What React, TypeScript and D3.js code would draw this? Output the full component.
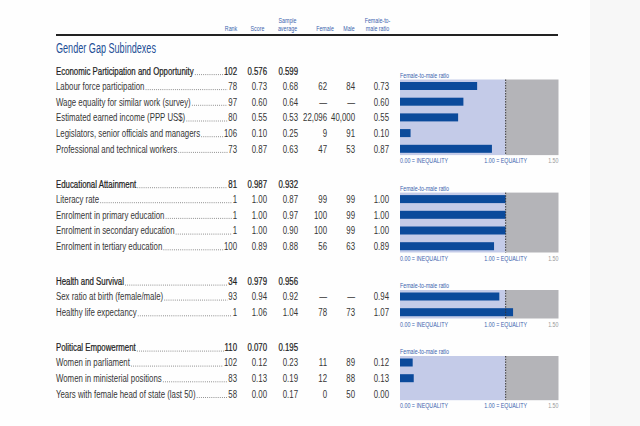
import React, { useEffect, useRef } from "react";
import * as d3 from "d3";

// ---- data ----
const sectionNames = [
  "Economic Participation and Opportunity",
  "Educational Attainment",
  "Health and Survival",
  "Political Empowerment",
];
const sectionRank = [102, 81, 34, 110];
const sectionScore = [0.576, 0.987, 0.979, 0.07];
const sectionAvg = [0.599, 0.932, 0.956, 0.195];

const indicatorLabels = [
  "Labour force participation",
  "Wage equality for similar work (survey)",
  "Estimated earned income (PPP US$)",
  "Legislators, senior officials and managers",
  "Professional and technical workers",
  "Literacy rate",
  "Enrolment in primary education",
  "Enrolment in secondary education",
  "Enrolment in tertiary education",
  "Sex ratio at birth (female/male)",
  "Healthy life expectancy",
  "Women in parliament",
  "Women in ministerial positions",
  "Years with female head of state (last 50)",
];
const indicatorSection = [0, 0, 0, 0, 0, 1, 1, 1, 1, 2, 2, 3, 3, 3];
const indicatorRank = [78, 97, 80, 106, 73, 1, 1, 1, 100, 93, 1, 102, 83, 58];
const indicatorScore = [0.73, 0.6, 0.55, 0.1, 0.87, 1.0, 1.0, 1.0, 0.89, 0.94, 1.06, 0.12, 0.13, 0.0];
const indicatorAvg = [0.68, 0.64, 0.53, 0.25, 0.63, 0.87, 0.97, 0.9, 0.88, 0.92, 1.04, 0.23, 0.19, 0.17];
const indicatorFemale: (number | null)[] = [62, null, 22096, 9, 47, 99, 100, 100, 56, null, 78, 11, 12, 0];
const indicatorMale: (number | null)[] = [84, null, 40000, 91, 53, 99, 99, 99, 63, null, 73, 89, 88, 50];
const indicatorRatio = [0.73, 0.6, 0.55, 0.1, 0.87, 1.0, 1.0, 1.0, 0.89, 0.94, 1.07, 0.12, 0.13, 0.0];

const columnHeaders = [["Rank"], ["Score"], ["Sample", "average"], ["Female"], ["Male"], ["Female-to-", "male ratio"]];
const ratioTicks = ["0.00 = INEQUALITY", "1.00 = EQUALITY", "1.50"];
const ratioDomain = [0, 1.5];
const title = "Gender Gap Subindexes";
const chartLabel = "Female-to-male ratio";

const FONT = "'Liberation Sans', Arial, sans-serif";
const BLUE = "#1d4f96";
const SMALLBLUE = "#3b63ad";
const BAR = "#0b4a9b";
const TEXT = "#363636";

export default function App() {
  const ref = useRef<SVGSVGElement | null>(null);

  useEffect(() => {
    const svg = d3.select(ref.current);
    svg.selectAll("*").remove();

    svg.append("rect").attr("width", 640).attr("height", 426).attr("fill", "#fefefe");
    svg.append("rect").attr("x", 590).attr("width", 50).attr("height", 426).attr("fill", "#f7f7f7");

    // measure helper to derive a condensing factor for the available font
    const measure = (s: string, size: number) => {
      const t = svg.append("text").attr("font-family", FONT).attr("font-size", size).text(s);
      const w = (t.node() as SVGTextElement).getComputedTextLength();
      t.remove();
      return w;
    };
    const BODY = 11;
    const sxBody = 88.5 / measure("Labour force participation", BODY);
    const TITLE = 14;
    const sxTitle = 100 / measure(title, TITLE);
    const SMALL = 7.6;
    const sxSmall = 49 / measure(chartLabel, SMALL);

    type Opt = { size: number; sx: number; anchor?: string; fill?: string; heavy?: boolean };
    const txt = (x: number, y: number, s: string, o: Opt) => {
      const t = svg.append("text")
        .attr("transform", `translate(${x},${y}) scale(${o.sx},1)`)
        .attr("dy", "0.35em")
        .attr("text-anchor", o.anchor || "start")
        .attr("font-family", FONT)
        .attr("font-size", o.size)
        .attr("fill", o.fill || TEXT)
        .text(s);
      if (o.heavy) t.attr("stroke", o.fill || TEXT).attr("stroke-width", 0.25);
      return (t.node() as SVGTextElement).getComputedTextLength() * o.sx;
    };

    const leftX = 56;
    const colX = [237, 267, 298, 327, 355, 389];
    const headX = [231, 257.5, 287.5, 325, 349, 377.5];
    const x = d3.scaleLinear().domain(ratioDomain).range([400, 558.5]);
    const f2 = d3.format(".2f");
    const f3 = d3.format(".3f");
    const fc = d3.format(",");

    // column headers
    columnHeaders.forEach((lines, i) => {
      lines.forEach((ln, j) => {
        txt(headX[i], 28 - (lines.length - 1 - j) * 7.4, ln, { size: SMALL, sx: sxSmall, anchor: "middle", fill: SMALLBLUE });
      });
    });

    svg.append("line").attr("x1", leftX).attr("x2", 558).attr("y1", 35).attr("y2", 35)
      .attr("stroke", "#222").attr("stroke-width", 2.2);

    txt(leftX, 48, title, { size: TITLE, sx: sxTitle, fill: BLUE });

    const pitch = 15.7;
    let headerY = 71;

    const drawRow = (y: number, label: string, rank: number, cells: string[], heavy: boolean) => {
      const fill = heavy ? "#1e1e1e" : TEXT;
      const lw = txt(leftX, y, label, { size: BODY, sx: sxBody, fill, heavy });
      const rw = txt(colX[0], y, String(rank), { size: BODY, sx: sxBody, fill, heavy, anchor: "end" });
      const x1 = leftX + lw + 1.2;
      const x2 = colX[0] - rw - 0.6;
      if (x2 > x1) {
        svg.append("line").attr("x1", x1).attr("x2", x2).attr("y1", y + 3.6).attr("y2", y + 3.6)
          .attr("stroke", "#555").attr("stroke-width", 0.8).attr("stroke-dasharray", "0.8 1.3");
      }
      cells.forEach((c, k) => {
        txt(colX[k + 1], y, c, { size: BODY, sx: sxBody, fill, heavy, anchor: "end" });
      });
    };

    sectionNames.forEach((name, s) => {
      drawRow(headerY, name, sectionRank[s], [f3(sectionScore[s]), f3(sectionAvg[s])], true);
      const idx = indicatorSection.map((v, i) => (v === s ? i : -1)).filter((i) => i >= 0);
      const rowY = idx.map((_, j) => headerY + 15 + j * pitch);
      idx.forEach((i, j) => {
        drawRow(rowY[j], indicatorLabels[i], indicatorRank[i], [
          f2(indicatorScore[i]),
          f2(indicatorAvg[i]),
          indicatorFemale[i] === null ? "—" : fc(indicatorFemale[i] as number),
          indicatorMale[i] === null ? "—" : fc(indicatorMale[i] as number),
          f2(indicatorRatio[i]),
        ], false);
      });

      // mini chart
      const labelY = headerY + 4;
      const top = labelY + 4.5;
      const bottom = rowY[rowY.length - 1] + 6.3;
      txt(x(0), labelY, chartLabel, { size: SMALL, sx: sxSmall, fill: SMALLBLUE });
      svg.append("rect").attr("x", x(0)).attr("y", top).attr("width", x(1) - x(0)).attr("height", bottom - top)
        .attr("fill", "#c4cbe8");
      svg.append("rect").attr("x", x(1)).attr("y", top).attr("width", x(1.5) - x(1)).attr("height", bottom - top)
        .attr("fill", "#b4b4b8");
      idx.forEach((i, j) => {
        const v = indicatorRatio[i];
        if (v > 0) {
          svg.append("rect").attr("x", x(0)).attr("y", rowY[j] - 4).attr("width", x(v) - x(0)).attr("height", 8)
            .attr("fill", BAR);
        }
      });
      svg.append("line").attr("x1", x(1)).attr("x2", x(1)).attr("y1", top).attr("y2", bottom)
        .attr("stroke", "#333").attr("stroke-width", 1).attr("stroke-dasharray", "1.5 1.2");
      const axisY = bottom + 5.5;
      const tickX = [x(0), x(1), x(1.5)];
      const anchors = ["start", "middle", "end"];
      ratioTicks.forEach((t, k) => {
        txt(tickX[k], axisY, t, { size: SMALL, sx: sxSmall, anchor: anchors[k], fill: k === 2 ? "#999" : SMALLBLUE });
      });
      headerY = axisY + 23.5;
    });
  }, []);

  return (
    <svg ref={ref} width={640} height={426} style={{ position: "absolute", left: 0, top: 0 }} />
  );
}
